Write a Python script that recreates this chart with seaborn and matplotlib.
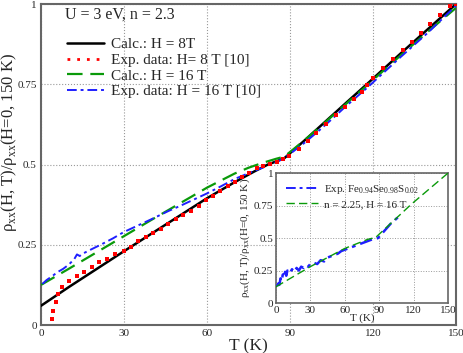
import numpy as np
import pandas as pd
import matplotlib
matplotlib.use("Agg")
import matplotlib.pyplot as plt
import seaborn as sns
from matplotlib.lines import Line2D

# ---- main panel data ----
calc8_T = [0, 10, 20, 30, 40, 50, 60, 70, 77, 82, 86, 88, 95, 100, 110, 118, 130, 140, 150]
calc8_v = [0.06, 0.118, 0.174, 0.23, 0.285, 0.34, 0.395, 0.445, 0.478, 0.5, 0.513, 0.52,
           0.573, 0.612, 0.69, 0.752, 0.846, 0.923, 1.0]

calc16_T = [0, 10, 20, 30, 40, 50, 60, 70, 75, 80, 85, 88, 95, 100, 110, 118, 130, 140, 150]
calc16_v = [0.125, 0.175, 0.226, 0.277, 0.328, 0.378, 0.428, 0.472, 0.49, 0.505, 0.518, 0.525,
            0.574, 0.611, 0.687, 0.748, 0.84, 0.915, 0.988]

exp16_T = [0.5, 2, 4, 6, 8, 10, 12, 13, 14, 15, 18, 22, 26, 30, 35, 40, 46, 50, 55, 60, 65, 70,
           75, 80, 85, 88, 95, 100, 106, 110, 118, 130, 140, 150]
exp16_v = [0.128, 0.14, 0.152, 0.165, 0.175, 0.188, 0.205, 0.22, 0.215, 0.222, 0.235, 0.252,
           0.27, 0.29, 0.31, 0.33, 0.355, 0.37, 0.39, 0.41, 0.432, 0.455, 0.473, 0.49, 0.508,
           0.52, 0.566, 0.602, 0.648, 0.68, 0.74, 0.835, 0.912, 0.995]

exp8_T = [3.9, 4.5, 5.3, 6.1, 7.7, 10.2, 12.9, 15.7, 18.3, 21.1, 24.0, 26.9, 30.1, 32.4, 34.9,
          37.8, 40.6, 43.4, 46.0, 48.8, 51.4, 54.2, 57.0, 59.6, 62.3, 64.7, 67.5, 70.1, 72.7,
          75.3, 78.0, 80.3, 82.8, 85.2, 87.5, 89.7, 93.3, 96.5, 99.6, 103.2, 106.8, 110.0,
          113.0, 115.9, 118.0, 120.1, 123.7, 127.3, 130.8, 134.3, 137.5, 140.8, 144.3, 147.8, 150.0]
exp8_v = [0.018, 0.045, 0.071, 0.097, 0.12, 0.138, 0.152, 0.165, 0.18, 0.196, 0.207, 0.221,
          0.231, 0.244, 0.261, 0.274, 0.288, 0.3, 0.315, 0.329, 0.343, 0.356, 0.371, 0.389,
          0.402, 0.418, 0.433, 0.446, 0.46, 0.474, 0.488, 0.495, 0.502, 0.509, 0.518, 0.527,
          0.548, 0.572, 0.597, 0.625, 0.654, 0.68, 0.703, 0.727, 0.748, 0.77, 0.8, 0.828,
          0.856, 0.883, 0.91, 0.938, 0.966, 0.994, 1.0]

# ---- inset data ----
ins_exp_T = [1, 2, 3, 4, 5, 6, 7, 8, 9, 10, 12, 14, 16, 18, 20, 22, 24, 26, 28, 30, 33, 36, 39,
             42, 45, 48, 51, 54, 57, 60, 63, 66, 69, 72, 75, 78, 81, 84, 87, 89, 91, 93, 95,
             97, 99, 101, 103, 105, 107, 109]
ins_exp_v = [0.13, 0.15, 0.14, 0.19, 0.17, 0.22, 0.2, 0.24, 0.21, 0.25, 0.23, 0.26, 0.24, 0.27,
             0.25, 0.28, 0.27, 0.29, 0.28, 0.30, 0.31, 0.30, 0.33, 0.32, 0.35, 0.36, 0.37, 0.38,
             0.40, 0.41, 0.42, 0.43, 0.44, 0.45, 0.46, 0.47, 0.48, 0.49, 0.495, 0.50, 0.52,
             0.54, 0.56, 0.58, 0.60, 0.62, 0.63, 0.65, 0.66, 0.68]
ins_calc_T = [0, 30, 60, 80, 87, 118, 150]
ins_calc_v = [0.125, 0.28, 0.42, 0.49, 0.505, 0.76, 1.0]

x_ticks = [0, 30, 60, 90, 120, 150]
y_ticks = [0, 0.25, 0.5, 0.75, 1]
y_ticklabels = ["0", "0.25", "0.5", "0.75", "1"]

sns.set_style("white")
plt.rcParams["font.family"] = ["Liberation Serif", "DejaVu Serif"]
plt.rcParams["mathtext.fontset"] = "custom"
plt.rcParams["mathtext.rm"] = "Liberation Serif"

ylab = r"ρ$_{\mathrm{xx}}$(H, T)/ρ$_{\mathrm{xx}}$(H=0, 150 K)"
grey = "#666666"

fig = plt.figure(figsize=(4.63, 3.53), dpi=100)
ax = fig.add_axes([0.0886, 0.0793, 0.896, 0.909])

sns.lineplot(x=calc8_T, y=calc8_v, ax=ax, color="black", lw=1.8, zorder=3)
sns.scatterplot(x=exp8_T, y=exp8_v, ax=ax, color="red", marker="s", s=6, linewidth=0, zorder=4)
sns.lineplot(x=calc16_T, y=calc16_v, ax=ax, color="#0a9a0a", lw=1.6, zorder=3)
ax.lines[-1].set_dashes([7, 3.5])
sns.lineplot(x=exp16_T, y=exp16_v, ax=ax, color="#1f1fff", lw=1.4, zorder=3)
ax.lines[-1].set_dashes([5, 2, 1.5, 2])

ax.set_xlim(0, 150)
ax.set_ylim(0, 1)
ax.set_xticks(x_ticks)
ax.set_yticks(y_ticks)
ax.set_yticklabels(y_ticklabels)
ax.tick_params(labelsize=8, length=0, pad=3)
ax.grid(True, color="#999999", linestyle=":", linewidth=0.8)
for sp in ax.spines.values():
    sp.set_color(grey)
    sp.set_linewidth(1.5)
ax.set_xlabel("T (K)", fontsize=12.5, labelpad=0)
ax.set_ylabel(ylab, fontsize=12)
ax.yaxis.set_label_coords(-0.053, 0.57)

ax.text(8.7, 0.966, "U = 3 eV, n = 2.3", fontsize=11.5, va="center")

handles = [
    Line2D([], [], color="black", lw=1.8),
    Line2D([], [], color="red", lw=2, linestyle=(0, (1, 2.5))),
    Line2D([], [], color="#0a9a0a", lw=1.6, dashes=[7, 3.5]),
    Line2D([], [], color="#1f1fff", lw=1.4, dashes=[5, 2, 1.5, 2]),
]
labels = ["Calc.: H = 8T", "Exp. data: H= 8 T [10]", "Calc.: H = 16 T", "Exp. data: H = 16 T [10]"]
ax.legend(handles, labels, loc="upper left", bbox_to_anchor=(0.044, 0.919), frameon=False,
          fontsize=11, handlelength=2.4, handletextpad=0.5, labelspacing=0.13, borderpad=0)

# ---- inset ----
axi = fig.add_axes([0.596, 0.1416, 0.3715, 0.368])
axi.set_facecolor("white")
sns.lineplot(x=ins_exp_T, y=ins_exp_v, ax=axi, color="#1f1fff", lw=1.8, zorder=3)
axi.lines[-1].set_dashes([5, 2, 1.5, 2])
sns.lineplot(x=ins_calc_T, y=ins_calc_v, ax=axi, color="#0a9a0a", lw=1.0, zorder=3)
axi.lines[-1].set_dashes([6, 3])
axi.set_xlim(0, 150)
axi.set_ylim(0, 1)
axi.set_xticks(x_ticks)
axi.set_yticks(y_ticks)
axi.set_yticklabels(y_ticklabels)
axi.tick_params(labelsize=8, length=0, pad=2)
axi.grid(True, color="#999999", linestyle=":", linewidth=0.7)
for sp in axi.spines.values():
    sp.set_color(grey)
    sp.set_linewidth(1.2)
axi.set_xlabel("T (K)", fontsize=8, labelpad=-1)
axi.set_ylabel(ylab, fontsize=8, labelpad=1)
ih = [Line2D([], [], color="#1f1fff", lw=1.4, dashes=[5, 2, 1.5, 2]),
      Line2D([], [], color="#0a9a0a", lw=1.0, dashes=[6, 3])]
il = [r"Exp. Fe$_{0.94}$Se$_{0.98}$S$_{0.02}$", "n = 2.25, H = 16 T"]
axi.legend(ih, il, loc="upper left", bbox_to_anchor=(0.025, 0.965), frameon=False, fontsize=8,
           handlelength=2.9, handletextpad=0.55, labelspacing=0.3, borderpad=0)

fig.savefig("out.png", dpi=100)
